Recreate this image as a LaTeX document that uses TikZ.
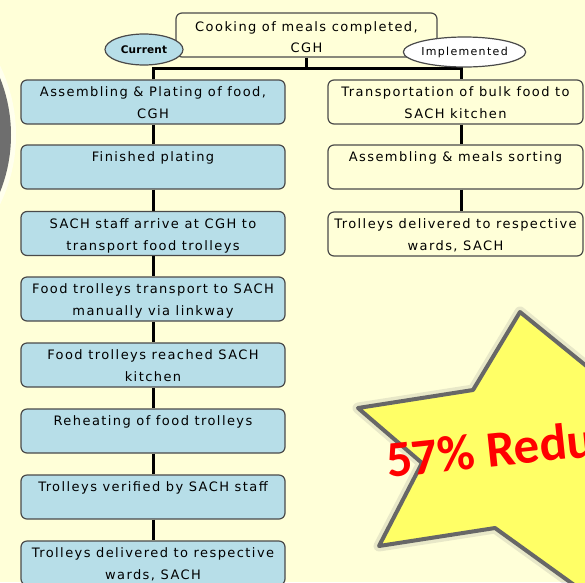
\documentclass[tikz,border=0pt]{standalone}
\usepackage{fontspec}
\newfontfamily\boxfont[LetterSpace=11]{DejaVu Sans}
\newfontfamily\ovalfont[LetterSpace=12]{DejaVu Sans}
\newfontfamily\ovalbold[LetterSpace=2]{DejaVu Sans Bold}
\newfontfamily\starfont{Carlito}
\usetikzlibrary{shapes.geometric}
\definecolor{bg}{HTML}{FFFFD8}
\definecolor{boxblue}{HTML}{B7DEE8}
\definecolor{boxline}{HTML}{4A4A4A}
\definecolor{starfill}{HTML}{FFFF66}
\definecolor{starline}{HTML}{676767}
\definecolor{disk}{HTML}{6E6E6E}
\newcommand\bt[3][16.5]{\parbox[c][44pt][t]{#2}{\centering\fontsize{13}{22}\selectfont\rule{0pt}{#1pt}#3}}
\tikzset{
  boxbase/.style={draw=boxline, line width=1.2pt, rounded corners=6pt, inner sep=0pt, minimum height=44pt, font=\boxfont},
  lbox/.style={boxbase, fill=boxblue, minimum width=264pt},
  rbox/.style={boxbase, fill=bg, minimum width=255pt},
  tbox/.style={boxbase, fill=bg, minimum width=261pt},
  conn/.style={line width=3pt, black},
  oval/.style={ellipse, draw=boxline, line width=1.2pt, inner sep=0pt},
}
\begin{document}
\begin{tikzpicture}[x=1pt, y=-1pt]
\useasboundingbox (0,0) rectangle (585,582);
\fill[bg] (0,0) rectangle (585,582);
\begin{scope}
\clip (0,0) rectangle (585,582);
% grey disk on the left
\fill[white!55!bg] (-142,135) circle[radius=158pt];
\fill[disk] (-142,135) circle[radius=153pt];
% star
\draw[line width=11pt, line join=round, gray, opacity=0.18]
  (520,312) -- (473,390) -- (358,408) -- (422,463) -- (379,546) -- (495,528)
  -- (620,618) -- (660,520) -- (740,430) -- (622,395) -- cycle;
\draw[line width=4pt, line join=round, draw=starline, fill=starfill]
  (520,312) -- (473,390) -- (358,408) -- (422,463) -- (379,546) -- (495,528)
  -- (620,618) -- (660,520) -- (740,430) -- (622,395) -- cycle;
\node[anchor=base west, rotate=6, text=red, inner sep=0pt,
  font=\starfont\bfseries\fontsize{51}{51}\selectfont] (startext) at (388,478) {57\% Reduction};
\end{scope}

% top box
\node[tbox] (top) at (306.5,35) {\bt[18.5]{261pt}{Cooking of meals completed,\\[-1.5pt]CGH}};

% left column
\node[lbox] (l1) at (153,102) {\bt{264pt}{Assembling \& Plating of food,\\CGH}};
\node[lbox] (l2) at (153,167) {\bt{264pt}{Finished plating}};
\node[lbox] (l3) at (153,233.5) {\bt{264pt}{SACH staff arrive at CGH to\\transport food trolleys}};
\node[lbox] (l4) at (153,299) {\bt{264pt}{Food trolleys transport to SACH\\manually via linkway}};
\node[lbox] (l5) at (153,365) {\bt{264pt}{Food trolleys reached SACH\\kitchen}};
\node[lbox] (l6) at (153,431) {\bt{264pt}{Reheating of food trolleys}};
\node[lbox] (l7) at (153,497) {\bt{264pt}{Trolleys verified by SACH staff}};
\node[lbox] (l8) at (153,563) {\bt{264pt}{Trolleys delivered to respective\\wards, SACH}};

% right column
\node[rbox] (r1) at (455.5,102) {\bt{255pt}{Transportation of bulk food to\\SACH kitchen}};
\node[rbox] (r2) at (455.5,167) {\bt{255pt}{Assembling \& meals sorting}};
\node[rbox] (r3) at (455.5,234) {\bt{255pt}{Trolleys delivered to respective\\wards, SACH}};

% connectors
\coordinate (jl) at (153,68);
\coordinate (jm) at (306.5,68);
\coordinate (jr) at (461,68);
\draw[conn] (top.south) -- (jm);
\draw[conn] (l1.north) -- (jl) -- (jr) -- (r1.north -| jr);
\foreach \a/\b in {l1/l2,l2/l3,l3/l4,l4/l5,l5/l6,l6/l7,l7/l8}
  \draw[conn] (\a.south) -- (\b.north);
\draw[conn] (r1.south -| jr) -- (r2.north -| jr);
\draw[conn] (r2.south -| jr) -- (r3.north -| jr);

% ovals
\node[oval, fill=boxblue, minimum width=78pt, minimum height=31pt,
  font=\ovalbold\fontsize{10.5}{10.5}\selectfont] (cur) at (144,49.5) {Current};
\node[oval, fill=white, minimum width=109pt, minimum height=30pt,
  font=\ovalfont\fontsize{11}{11}\selectfont] (imp) at (464.5,52) {Implemented};
\end{tikzpicture}
\end{document}
